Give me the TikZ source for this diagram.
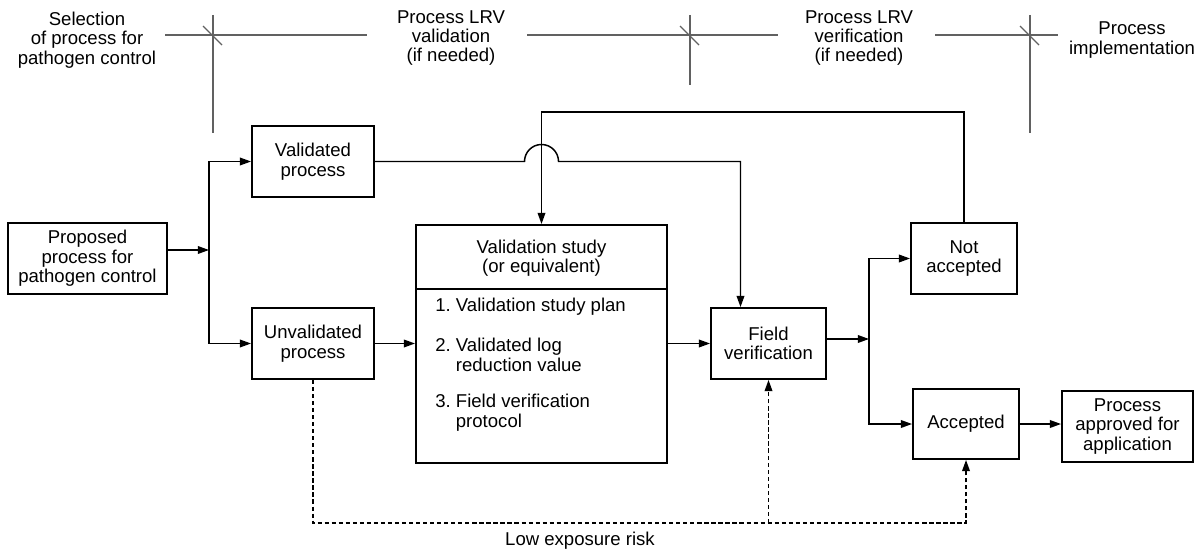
\documentclass[tikz,border=0pt]{standalone}
\usepackage{fontspec}
\setmainfont{Liberation Sans}
\usetikzlibrary{arrows.meta}
\begin{document}
\begin{tikzpicture}[x=0.025cm,y=-0.025cm,font=\fontsize{13.2}{13.8}\selectfont,
    box/.style={draw,line width=1.35pt,align=center,inner sep=0pt,minimum height=1.775cm},
    arr/.style={line width=1.05pt,-{Triangle[length=8pt,width=5.5pt]}},
    dsh/.style={dash pattern=on 3pt off 2pt},
    hdr/.style={draw=black!62,line width=0.8pt},
    txt/.style={align=center,inner sep=0pt}]
    \useasboundingbox (0,0) rectangle (1200,550);
    \node[txt] (sel) at (87,40) {Selection\\of process for\\pathogen control};
    \node[txt] (valid) at (451,38) {Process LRV\\validation\\(if needed)};
    \node[txt] (verif) at (859,38) {Process LRV\\verification\\(if needed)};
    \node[txt] (impl) at (1132,40) {Process\\implementation};
    \draw[hdr] (165,35) -- (367,35);
    \draw[hdr] (527,35) -- (778,35);
    \draw[hdr] (935,35) -- (1058,35);
    \draw[hdr] (213,15) -- (213,133);
    \draw[hdr] (690,15) -- (690,85);
    \draw[hdr] (1030,15) -- (1030,133);
    \draw[hdr] (203,26) -- (222,45);
    \draw[hdr] (680,26) -- (699,45);
    \draw[hdr] (1020,26) -- (1039,45);
    \node[box,minimum width=3.975cm] (prop) at (87.5,258.5) {Proposed\\process for\\pathogen control};
    \node[box,minimum width=3.05cm] (val) at (313,161.5) {Validated\\process};
    \node[box,minimum width=3.05cm] (unval) at (313,343.5) {Unvalidated\\process};
    \node[box,minimum width=6.275cm,minimum height=5.95cm] (study) at (541.5,344) {};
    \draw[line width=1.35pt] (study.west |- 0,289) -- (study.east |- 0,289);
    \node[txt] (studyhead) at (541.5,258) {Validation study\\(or equivalent)};
    \node[txt,anchor=west,align=left] (item1) at (435,307) {1.\ Validation study plan};
    \node[txt,anchor=west,align=left] (item2) at (435,355) {2.\ Validated log\\\phantom{2.}\ reduction value};
    \node[txt,anchor=west,align=left] (item3) at (435,412.5) {3.\ Field verification\\\phantom{3.}\ protocol};
    \node[box,minimum width=2.875cm] (field) at (768.5,343.5) {Field\\verification};
    \node[box,minimum width=2.65cm] (notacc) at (964,258.5) {Not\\accepted};
    \node[box,minimum width=2.65cm,minimum height=1.75cm] (acc) at (966,424) {Accepted};
    \node[box,minimum width=3.275cm] (appr) at (1127.5,426.5) {Process\\approved for\\application};
    \node[txt] (risk) at (580,541) {Low exposure risk};
    \coordinate (split) at (209,250);
    \coordinate (fork) at (869,339);
    \coordinate (lowline) at (0,523);
    \draw[arr] (prop.east |- split) -- (split);
    \draw[arr] (split) |- (val.west);
    \draw[arr] (split) |- (unval.west);
    \draw[arr] (unval.east) -- (study.west |- unval.east);
    \draw[arr] (study.east |- field.west) -- (field.west);
    \draw[arr] (val.east) -- (524.5,161.5) arc[start angle=180,end angle=0,radius=0.425cm] -| ([xshift=-0.7cm]field.north);
    \draw[arr] (notacc.north) |- (study.north |- 0,112) -- (study.north);
    \draw[arr] (field.east |- fork) -- (fork);
    \draw[arr] (fork) |- (notacc.west);
    \draw[arr] (fork) |- (acc.west);
    \draw[arr] (acc.east) -- (appr.west |- acc.east);
    \draw[arr,dsh] (unval.south) -- (unval.south |- lowline) -| (acc.south);
    \draw[arr,dsh] (field.south |- lowline) -- (field.south);
\end{tikzpicture}
\end{document}
